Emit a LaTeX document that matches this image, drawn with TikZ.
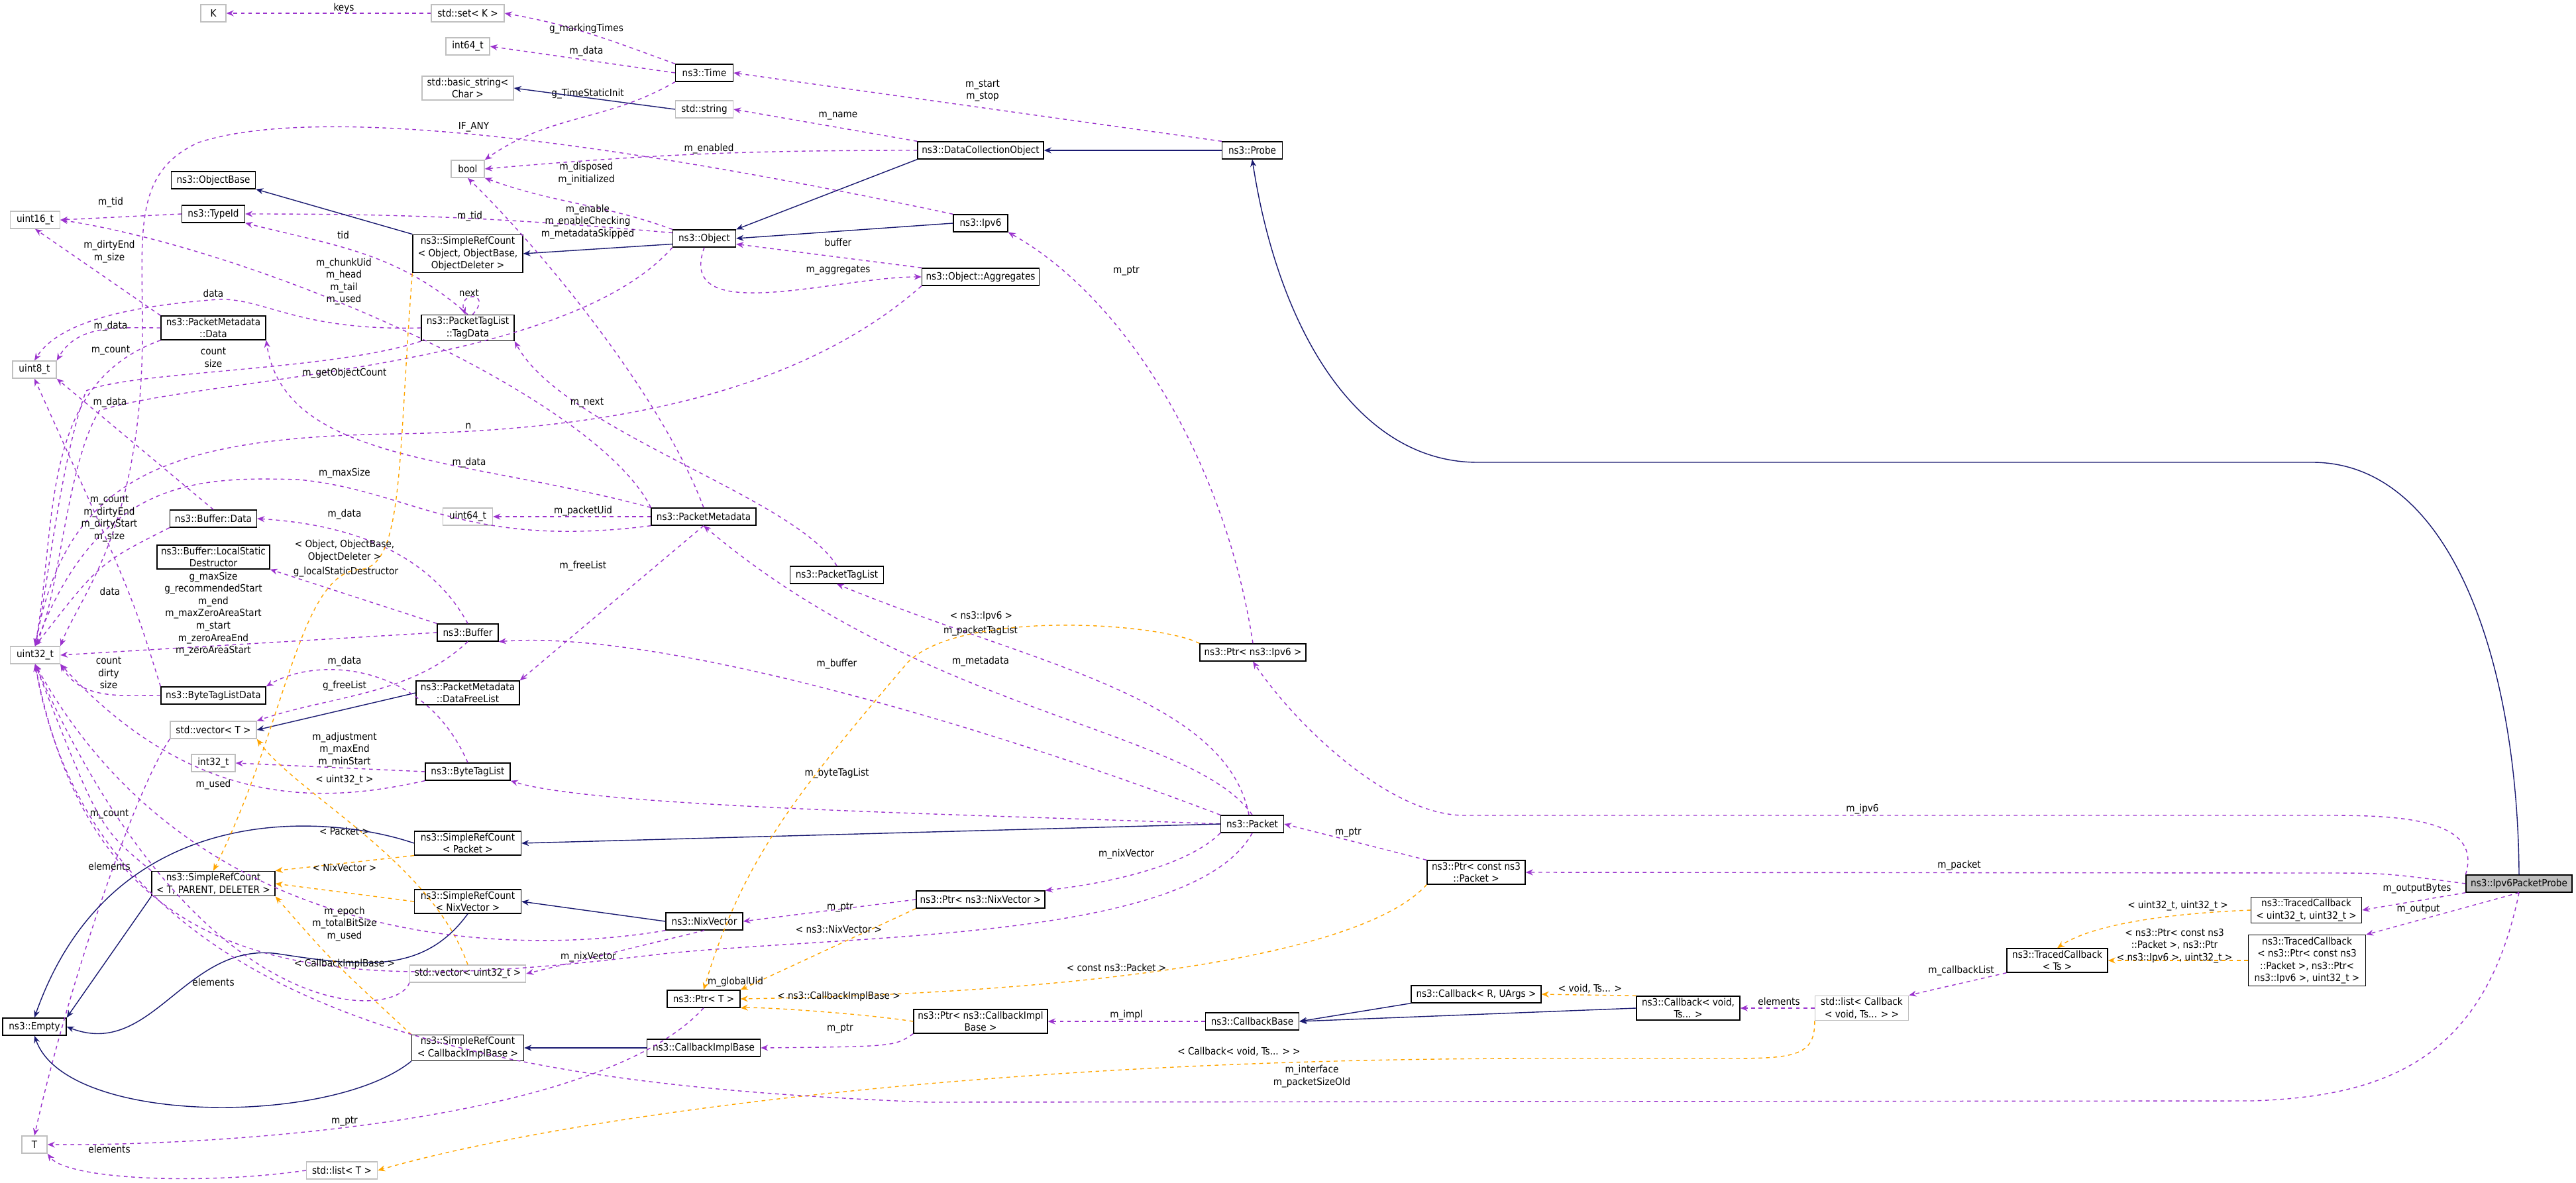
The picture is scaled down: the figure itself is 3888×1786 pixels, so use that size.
\documentclass[tikz,border=0pt]{standalone}
\usepackage{fontspec}
\setmainfont{DejaVu Sans Condensed}
\usepackage{tikz}
\usetikzlibrary{arrows.meta}
\definecolor{dpurple}{HTML}{9A32CD}
\definecolor{dnavy}{HTML}{191970}
\definecolor{dorange}{HTML}{FFA500}
\newcommand\dfont{\fontsize{4.3}{5.3}\selectfont}
\tikzset{
  cls/.style={draw=black, fill=white, font=\dfont, inner sep=0.8pt, minimum height=2.6mm, align=center, line width=0.4pt},
  ext/.style={cls, draw=black!25},
  mem/.style={draw=dpurple, dash pattern=on 1.6pt off 1.6pt, line width=0.4pt, -{Stealth[length=1.1mm,width=0.9mm]}},
  inh/.style={draw=dnavy, line width=0.4pt, -{Stealth[length=1.1mm,width=0.9mm]}},
  tpl/.style={draw=dorange, dash pattern=on 1.6pt off 1.6pt, line width=0.4pt, -{Stealth[length=1.1mm,width=0.9mm]}},
  lbl/.style={font=\dfont, inner sep=0.3pt, align=center}
}
\begin{document}
\begin{tikzpicture}[x=0.1mm, y=-0.1mm]
\useasboundingbox (0,0) rectangle (3888,1786);

% left columns
\node[ext, minimum width=3.8mm] (K) at (322,20) {K};
\node[ext, minimum width=11mm] (setK) at (706,20) {std::set< K >};
\node[ext, minimum width=6.6mm] (int64) at (706,70) {int64\_t};
\node[ext, minimum width=13.8mm] (bstr) at (706,133) {std::basic\_string<\\Char >};
\node[ext, minimum width=5mm] (bool) at (706,255) {bool};
\node[cls, minimum width=12.7mm] (objBase) at (322,272) {ns3::ObjectBase};
\node[cls, minimum width=9.5mm] (typeId) at (322,323) {ns3::TypeId};
\node[ext, minimum width=7.5mm] (u16) at (53,332) {uint16\_t};
\node[cls, minimum width=16.6mm] (srcObj) at (706,383) {ns3::SimpleRefCount\\< Object, ObjectBase,\\ObjectDeleter >};
\node[cls, minimum width=15.8mm] (pmData) at (322,495) {ns3::PacketMetadata\\::Data};
\node[cls, minimum width=14mm] (tagData) at (706,495) {ns3::PacketTagList\\::TagData};
\node[ext, minimum width=6.6mm] (u8) at (52,558) {uint8\_t};
\node[cls, minimum width=13.1mm] (bufData) at (322,783) {ns3::Buffer::Data};
\node[cls, minimum width=17mm] (lsd) at (322,841) {ns3::Buffer::LocalStatic\\Destructor};
\node[ext, minimum width=7.5mm] (u64) at (706,780) {uint64\_t};
\node[cls, minimum width=9.2mm] (buffer) at (706,955) {ns3::Buffer};
\node[ext, minimum width=7.5mm] (u32) at (53,989) {uint32\_t};
\node[cls, minimum width=15.8mm] (btld) at (322,1050) {ns3::ByteTagListData};
\node[cls, minimum width=15.6mm] (dfl) at (706,1046) {ns3::PacketMetadata\\::DataFreeList};
\node[ext, minimum width=13mm] (vecT) at (322,1102) {std::vector< T >};
\node[ext, minimum width=6.6mm] (i32) at (322,1152) {int32\_t};
\node[cls, minimum width=12.8mm] (btl) at (706,1165) {ns3::ByteTagList};
\node[cls, minimum width=16.1mm] (srcPacket) at (706,1273) {ns3::SimpleRefCount\\< Packet >};
\node[cls, minimum width=18.6mm] (srcT) at (322,1334) {ns3::SimpleRefCount\\< T, PARENT, DELETER >};
\node[cls, minimum width=16.1mm] (srcNix) at (706,1361) {ns3::SimpleRefCount\\< NixVector >};
\node[ext, minimum width=17.5mm] (vecU32) at (706,1470) {std::vector< uint32\_t >};
\node[cls, minimum width=9.6mm] (empty) at (52,1550) {ns3::Empty};
\node[cls, minimum width=16.9mm] (srcCib) at (706,1582) {ns3::SimpleRefCount\\< CallbackImplBase >};
\node[ext, minimum width=3.8mm] (T) at (52,1728) {T};
\node[ext, minimum width=10.7mm] (listT) at (516,1767) {std::list< T >};

% middle columns
\node[cls, minimum width=8.7mm] (time) at (1063,110) {ns3::Time};
\node[ext, minimum width=8.7mm] (string) at (1063,165) {std::string};
\node[cls, minimum width=9.5mm] (object) at (1063,360) {ns3::Object};
\node[cls, minimum width=15.8mm] (pm) at (1062,780) {ns3::PacketMetadata};
\node[cls, minimum width=11.6mm] (nix) at (1063,1391) {ns3::NixVector};
\node[cls, minimum width=11mm] (ptrT) at (1062,1508) {ns3::Ptr< T >};
\node[cls, minimum width=17.1mm] (cib) at (1062,1582) {ns3::CallbackImplBase};
\node[cls, minimum width=14.1mm] (ptl) at (1263,868) {ns3::PacketTagList};
\node[cls, minimum width=19mm] (dco) at (1480,227) {ns3::DataCollectionObject};
\node[cls, minimum width=8.2mm] (ipv6) at (1480,337) {ns3::Ipv6};
\node[cls, minimum width=17.7mm] (aggr) at (1480,418) {ns3::Object::Aggregates};
\node[cls, minimum width=19.4mm] (ptrNix) at (1480,1358) {ns3::Ptr< ns3::NixVector >};
\node[cls, minimum width=20.2mm] (ptrCib) at (1480,1542) {ns3::Ptr< ns3::CallbackImpl\\Base >};
\node[cls, minimum width=9.1mm] (probe) at (1890,227) {ns3::Probe};
\node[cls, minimum width=16mm] (ptrIpv6) at (1891,985) {ns3::Ptr< ns3::Ipv6 >};
\node[cls, minimum width=9.5mm] (packet) at (1890,1244) {ns3::Packet};
\node[cls, minimum width=14.1mm] (cbBase) at (1890,1542) {ns3::CallbackBase};

% right columns
\node[cls, minimum width=14.8mm] (ptrCPkt) at (2228,1317) {ns3::Ptr< const ns3\\::Packet >};
\node[cls, minimum width=19.6mm] (cbR) at (2228,1501) {ns3::Callback< R, UArgs >};
\node[cls, minimum width=15.6mm] (cbVoid) at (2548,1522) {ns3::Callback< void,\\Ts... >};
\node[ext, minimum width=14.1mm] (listCb) at (2810,1522) {std::list< Callback\\< void, Ts... > >};
\node[cls, minimum width=15.2mm] (tcTs) at (3105,1450) {ns3::TracedCallback\\< Ts >};
\node[cls, minimum width=16.7mm] (tcU32) at (3481,1374) {ns3::TracedCallback\\< uint32\_t, uint32\_t >};
\node[cls, minimum width=17.7mm] (tcPtr) at (3482,1450) {ns3::TracedCallback\\< ns3::Ptr< const ns3\\::Packet >, ns3::Ptr<\\ns3::Ipv6 >, uint32\_t >};
\node[cls, fill=black!25, minimum width=16mm] (probeV6) at (3802,1334) {ns3::Ipv6PacketProbe};

%% top part
\draw[mem] (setK) -- (K) node[lbl] at (519,12) {keys};
\draw[mem] (time.north west) to[out=160,in=-10] (setK.east) node[lbl] at (885,44) {g\_markingTimes};
\draw[mem] (time.west) -- (int64.east) node[lbl] at (885,78) {m\_data};
\draw[mem] (time.south west) to[out=210,in=35] (bool.north east) node[lbl] at (887,142) {g\_TimeStaticInit};
\draw[inh] (string.west) -- (bstr.east);
\draw[mem] (dco.north west) -- (string.east) node[lbl] at (1265,175) {m\_name};
\draw[mem] (dco.west) to[out=180,in=5] (bool.east) node[lbl] at (1070,225) {m\_enabled};
\draw[mem] (probe.north west) -- (time.east) node[lbl] at (1483,137) {m\_start\\m\_stop};
\draw[inh] (probe) -- (dco);
\draw[inh] (dco.south west) -- (object.north east);
\draw[inh] (ipv6.west) -- (object.east);
\draw[mem] (ipv6.north west) .. controls (1000,230) and (500,150) .. (300,215) .. controls (200,260) and (215,350) .. (215,500) .. controls (215,800) and (120,900) .. (u32.north east) node[lbl] at (715,192) {IF\_ANY};
\draw[mem] (object.north west) to[out=160,in=-20] (bool.south east) node[lbl] at (885,262) {m\_disposed\\m\_initialized};
\draw[mem] (object.170) to[out=175,in=0] (typeId.east) node[lbl] at (709,327) {m\_tid};
\draw[inh] (object.190) -- (srcObj.east);
\draw[inh] (srcObj.north west) -- (objBase.south east);
\draw[mem] (object.south) to[out=-110,in=180] (aggr.west) node[lbl] at (1265,408) {m\_aggregates};
\draw[mem] (aggr.north west) -- (object.-10) node[lbl] at (1265,366) {buffer};
\draw[mem] (aggr.south west) .. controls (1200,600) and (900,650) .. (600,655) .. controls (250,660) and (100,720) .. (u32.north) node[lbl] at (707,643) {n};
\draw[mem] (object.south west) .. controls (850,560) and (300,570) .. (150,620) .. controls (100,700) and (90,900) .. (u32.north) node[lbl] at (520,564) {m\_getObjectCount};
\draw[mem] (typeId.west) -- (u16.east) node[lbl] at (167,306) {m\_tid};

%% packet metadata and tags
\draw[mem] (pmData.north west) -- (u16.south) node[lbl] at (165,380) {m\_dirtyEnd\\m\_size};
\draw[mem] (pmData.west) to[out=180,in=60] (u8.north east) node[lbl] at (167,493) {m\_data};
\draw[mem] (pmData.south west) to[out=200,in=80] (u32.north) node[lbl] at (167,529) {m\_count};
\draw[mem] (tagData.north) .. controls (600,380) and (500,370) .. (typeId.south east) node[lbl] at (518,355) {tid};
\draw[mem] (tagData.70) .. controls (745,440) and (690,440) .. (tagData.100) node[lbl] at (708,442) {next};
\draw[mem] (tagData.west) .. controls (450,500) and (400,450) .. (330,452) .. controls (150,465) and (80,500) .. (u8.north) node[lbl] at (322,443) {data};
\draw[mem] (tagData.south west) .. controls (500,560) and (200,560) .. (130,590) .. controls (90,700) and (70,900) .. (u32.north) node[lbl] at (322,540) {count\\size};
\draw[mem] (pm.north west) .. controls (900,600) and (400,380) .. (u16.east) node[lbl] at (519,425) {m\_chunkUid\\m\_head\\m\_tail\\m\_used};
\draw[mem] (pm.north) .. controls (1000,600) and (820,380) .. (bool.south) node[lbl] at (887,335) {m\_enable\\m\_enableChecking\\m\_metadataSkipped};
\draw[mem] (pm.north west) .. controls (700,690) and (430,700) .. (pmData.south east) node[lbl] at (708,699) {m\_data};
\draw[mem] (pm.west) -- (u64.east) node[lbl] at (880,772) {m\_packetUid};
\draw[mem] (pm.south west) .. controls (700,830) and (620,740) .. (450,724) .. controls (300,720) and (150,720) .. (u32.north) node[lbl] at (520,715) {m\_maxSize};
\draw[mem] (pm.south) -- (dfl.north east) node[lbl] at (880,855) {m\_freeList};
\draw[mem] (ptl.north) .. controls (1200,750) and (850,650) .. (tagData.south east) node[lbl] at (886,608) {m\_next};

%% buffer
\draw[mem] (bufData.north) -- (u8.south east) node[lbl] at (166,608) {m\_data};
\draw[mem] (bufData.south west) .. controls (150,850) .. (u32.north) node[lbl] at (165,783) {m\_count\\m\_dirtyEnd\\m\_dirtyStart\\m\_size};
\draw[mem] (buffer.north) .. controls (640,820) and (500,790) .. (bufData.east) node[lbl] at (520,777) {m\_data};
\draw[mem] (buffer.north west) -- (lsd.south east) node[lbl] at (522,864) {g\_localStaticDestructor};
\draw[mem] (buffer.west) -- (u32.east) node[lbl] at (322,927) {g\_maxSize\\g\_recommendedStart\\m\_end\\m\_maxZeroAreaStart\\m\_start\\m\_zeroAreaEnd\\m\_zeroAreaStart};
\draw[mem] (buffer.south) .. controls (620,1050) and (500,1050) .. (vecT.north east) node[lbl] at (520,1036) {g\_freeList};
\draw[inh] (dfl.west) -- (vecT.east);
\draw[mem] (btld.north west) .. controls (200,900) .. (u8.south) node[lbl] at (166,893) {data};
\draw[mem] (btld.west) to[out=180,in=-60] (u32.south east) node[lbl] at (164,1016) {count\\dirty\\size};
\draw[mem] (btl.north) .. controls (640,1000) and (480,990) .. (btld.north east) node[lbl] at (520,999) {m\_data};
\draw[mem] (btl.west) -- (i32.east) node[lbl] at (520,1132) {m\_adjustment\\m\_maxEnd\\m\_minStart};
\draw[mem] (btl.south west) .. controls (500,1210) and (300,1230) .. (u32.south east) node[lbl] at (322,1185) {m\_used};
\draw[mem] (vecT.south west) .. controls (200,1200) and (100,1500) .. (T.north) node[lbl] at (165,1308) {elements};
\draw[tpl] (vecU32.north) .. controls (650,1300) and (450,1200) .. (vecT.south east) node[lbl] at (520,1178) {< uint32\_t >};
\draw[mem] (vecU32.south west) .. controls (600,1540) and (300,1560) .. (u32.south) node[lbl] at (322,1483) {elements};

%% packet
\draw[mem] (packet.west) .. controls (1500,1230) and (900,1220) .. (btl.south east) node[lbl] at (1263,1168) {m\_byteTagList};
\draw[mem] (packet.north west) .. controls (1500,1100) and (1000,950) .. (buffer.south east) node[lbl] at (1263,1003) {m\_buffer};
\draw[mem] (packet.north) .. controls (1800,1100) and (1400,1080) .. (pm.south) node[lbl] at (1480,999) {m\_metadata};
\draw[mem] (packet.110) .. controls (1850,1050) and (1550,1000) .. (ptl.south) node[lbl] at (1480,953) {m\_packetTagList};
\draw[mem] (packet.south west) .. controls (1800,1300) and (1700,1330) .. (ptrNix.north east) node[lbl] at (1700,1290) {m\_nixVector};
\draw[mem] (packet.south) .. controls (1800,1420) and (1300,1410) .. (1000,1440) .. controls (500,1500) and (150,1500) .. (u32.south) node[lbl] at (1110,1483) {m\_globalUid};
\draw[inh] (packet.west) -- (srcPacket.east);

%% simple ref counts
\draw[tpl] (srcPacket.south west) -- (srcT.north east) node[lbl] at (520,1255) {< Packet >};
\draw[inh] (srcPacket.west) .. controls (500,1230) and (170,1200) .. (empty.north);
\draw[tpl] (srcNix.west) -- (srcT.east) node[lbl] at (520,1310) {< NixVector >};
\draw[inh] (srcNix.south) .. controls (640,1470) and (550,1460) .. (420,1440) .. controls (280,1420) and (230,1600) .. (empty.east);
\draw[tpl] (srcObj.south west) .. controls (600,700) and (610,860) .. (540,860) .. controls (450,870) and (430,1100) .. (srcT.north) node[lbl] at (520,832) {< Object, ObjectBase,\\ObjectDeleter >};
\draw[tpl] (srcCib.north west) .. controls (500,1450) .. (srcT.south east) node[lbl] at (520,1455) {< CallbackImplBase >};
\draw[inh] (srcCib.south west) .. controls (500,1700) and (100,1700) .. (empty.south);
\draw[inh] (srcT.south west) -- (empty.north east);
\draw[mem] (srcT.north west) .. controls (150,1250) .. (u32.south) node[lbl] at (165,1229) {m\_count};
\draw[inh] (nix.west) -- (srcNix.east);
\draw[mem] (nix.south west) .. controls (800,1440) and (300,1450) .. (u32.south) node[lbl] at (520,1395) {m\_epoch\\m\_totalBitSize\\m\_used};
\draw[mem] (nix.south) -- (vecU32.east) node[lbl] at (888,1445) {m\_nixVector};

%% smart pointers
\draw[mem] (ptrNix.west) -- (nix.east) node[lbl] at (1268,1370) {m\_ptr};
\draw[tpl] (ptrNix.south west) -- (ptrT.north east) node[lbl] at (1266,1403) {< ns3::NixVector >};
\draw[mem] (ptrT.south) .. controls (900,1700) and (300,1730) .. (T.east) node[lbl] at (520,1693) {m\_ptr};
\draw[mem] (ptrIpv6.north) .. controls (1850,700) and (1700,450) .. (ipv6.south east) node[lbl] at (1700,409) {m\_ptr};
\draw[tpl] (ptrIpv6.north west) .. controls (1750,940) and (1450,920) .. (1370,1000) .. controls (1200,1200) and (1120,1300) .. (ptrT.north) node[lbl] at (1481,930) {< ns3::Ipv6 >};
\draw[mem] (ptrCPkt.north west) -- (packet.east) node[lbl] at (2035,1257) {m\_ptr};
\draw[tpl] (ptrCPkt.south west) .. controls (2050,1450) and (1600,1500) .. (ptrT.east) node[lbl] at (1685,1461) {< const ns3::Packet >};
\draw[mem] (ptrCib.south west) .. controls (1350,1580) .. (cib.east) node[lbl] at (1268,1553) {m\_ptr};
\draw[tpl] (ptrCib.west) .. controls (1300,1530) and (1150,1520) .. (ptrT.south east) node[lbl] at (1266,1504) {< ns3::CallbackImplBase >};
\draw[inh] (cib.west) -- (srcCib.east);

%% callbacks
\draw[mem] (cbBase.west) -- (ptrCib.east) node[lbl] at (1700,1533) {m\_impl};
\draw[inh] (cbR.south west) -- (cbBase.east);
\draw[inh] (cbVoid.west) -- (cbBase.east);
\draw[tpl] (cbVoid.north west) -- (cbR.east) node[lbl] at (2400,1493) {< void, Ts... >};
\draw[mem] (listCb.west) -- (cbVoid.east) node[lbl] at (2685,1512) {elements};
\draw[tpl] (listCb.south west) .. controls (2740,1600) and (2700,1598) .. (2580,1598) -- (2300,1598) .. controls (1400,1600) and (800,1700) .. (listT.east) node[lbl] at (1870,1588) {< Callback< void, Ts... > >};
\draw[mem] (listT.west) .. controls (300,1790) and (100,1780) .. (T.south east) node[lbl] at (165,1735) {elements};
\draw[mem] (tcTs.south west) -- (listCb.north east) node[lbl] at (2960,1466) {m\_callbackList};
\draw[tpl] (tcU32.west) .. controls (3250,1380) and (3150,1400) .. (tcTs.north) node[lbl] at (3287,1368) {< uint32\_t, uint32\_t >};
\draw[tpl] (tcPtr.west) -- (tcTs.east) node[lbl] at (3282,1428) {< ns3::Ptr< const ns3\\::Packet >, ns3::Ptr\\< ns3::Ipv6 >, uint32\_t >};

%% probe
\draw[inh] (probeV6.north) .. controls (3800,1000) and (3700,698) .. (3490,698) -- (2230,698) .. controls (2050,698) and (1930,500) .. (probe.south);
\draw[mem] (probeV6.north west) .. controls (3750,1230) and (3600,1231) .. (3500,1231) -- (2210,1231) .. controls (2100,1231) and (1960,1100) .. (ptrIpv6.south) node[lbl] at (2811,1222) {m\_ipv6};
\draw[mem] (probeV6.west) .. controls (3600,1318) .. (3500,1318) -- (ptrCPkt.east) node[lbl] at (2957,1307) {m\_packet};
\draw[mem] (probeV6.south west) -- (tcU32.east) node[lbl] at (3648,1342) {m\_outputBytes};
\draw[mem] (probeV6.south) -- (tcPtr.north east) node[lbl] at (3650,1373) {m\_output};
\draw[mem] (probeV6.south) .. controls (3750,1600) and (3600,1655) .. (3400,1662) -- (1400,1664) .. controls (800,1640) and (150,1560) .. (u32.south) node[lbl] at (1980,1625) {m\_interface\\m\_packetSizeOld};
\end{tikzpicture}
\end{document}
